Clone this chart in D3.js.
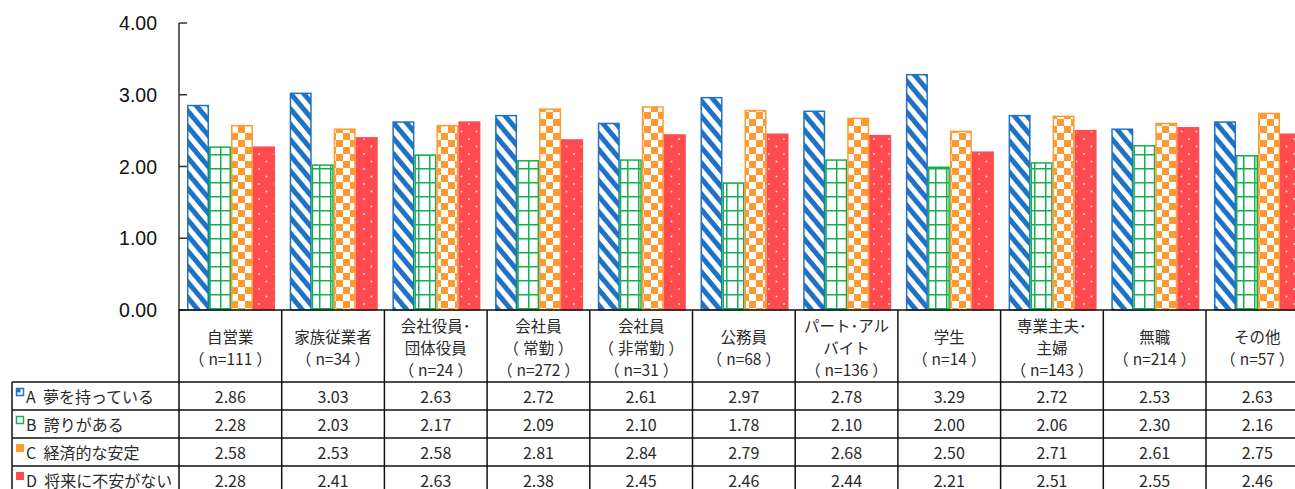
<!DOCTYPE html>
<html lang="ja">
<head>
<meta charset="UTF-8">
<title>職業別 回答平均</title>
<script src="https://d3js.org/d3.v7.min.js"></script>
<style>
  body { margin: 0; background: #fff; }
  text { font-family: "Noto Sans CJK JP", sans-serif; fill: #2a2a2a; }
  .ytick text { font-family: "Liberation Sans", Arial, sans-serif; font-size: 19.5px; fill: #111; }
</style>
</head>
<body>
<svg id="chart" width="1295" height="489"></svg>
<script>
// categories (header lines) and series values
const categories = [
  ["自営業", "（n=111）"],
  ["家族従業者", "（n=34）"],
  ["会社役員･", "団体役員", "（n=24）"],
  ["会社員", "（常勤）", "（n=272）"],
  ["会社員", "（非常勤）", "（n=31）"],
  ["公務員", "（n=68）"],
  ["パート･アル", "バイト", "（n=136）"],
  ["学生", "（n=14）"],
  ["専業主夫･", "主婦", "（n=143）"],
  ["無職", "（n=214）"],
  ["その他", "（n=57）"]
];
const seriesNames = ["A 夢を持っている", "B 誇りがある", "C 経済的な安定", "D 将来に不安がない"];
const seriesA = [2.86, 3.03, 2.63, 2.72, 2.61, 2.97, 2.78, 3.29, 2.72, 2.53, 2.63];
const seriesB = [2.28, 2.03, 2.17, 2.09, 2.10, 1.78, 2.10, 2.00, 2.06, 2.30, 2.16];
const seriesC = [2.58, 2.53, 2.58, 2.81, 2.84, 2.79, 2.68, 2.50, 2.71, 2.61, 2.75];
const seriesD = [2.28, 2.41, 2.63, 2.38, 2.45, 2.46, 2.44, 2.21, 2.51, 2.55, 2.46];
const yTicks = [0, 1, 2, 3, 4];

const allSeries = [seriesA, seriesB, seriesC, seriesD];
const colors = ["#1f72c4", "#12b04e", "#ff9a33", "#ff4b4f"];

const svg = d3.select("#chart");
const colW = 102.7;
const plotLeft = 179, plotTop = 23, base = 310;

const x = d3.scaleBand().domain(d3.range(categories.length))
  .range([plotLeft, plotLeft + colW * categories.length]);
const xs = d3.scaleBand().domain(d3.range(4)).range([8, 96]);
const y = d3.scaleLinear().domain([0, 4]).range([base, plotTop]);

// patterns
const defs = svg.append("defs");
const pA = defs.append("pattern").attr("id", "pA").attr("patternUnits", "userSpaceOnUse")
  .attr("width", 10).attr("height", 10).attr("patternTransform", "rotate(-40)");
pA.append("rect").attr("width", 10).attr("height", 10).attr("fill", "#fff");
pA.append("rect").attr("width", 5).attr("height", 10).attr("fill", colors[0]);

const pB = defs.append("pattern").attr("id", "pB").attr("patternUnits", "userSpaceOnUse")
  .attr("width", 11).attr("height", 14);
pB.append("rect").attr("width", 11).attr("height", 14).attr("fill", "#fff");
pB.append("line").attr("x1", 0.75).attr("x2", 0.75).attr("y1", 0).attr("y2", 14)
  .attr("stroke", colors[1]).attr("stroke-width", 1.5);
pB.append("line").attr("x1", 0).attr("x2", 11).attr("y1", 0.75).attr("y2", 0.75)
  .attr("stroke", colors[1]).attr("stroke-width", 1.5);

const pC = defs.append("pattern").attr("id", "pC").attr("patternUnits", "userSpaceOnUse")
  .attr("width", 14).attr("height", 14);
pC.append("rect").attr("width", 14).attr("height", 14).attr("fill", "#fff");
pC.append("rect").attr("width", 7).attr("height", 7).attr("fill", colors[2]);
pC.append("rect").attr("x", 7).attr("y", 7).attr("width", 7).attr("height", 7).attr("fill", colors[2]);

const pD = defs.append("pattern").attr("id", "pD").attr("patternUnits", "userSpaceOnUse")
  .attr("width", 15).attr("height", 15);
pD.append("rect").attr("width", 15).attr("height", 15).attr("fill", colors[3]);
pD.append("circle").attr("cx", 4).attr("cy", 4).attr("r", 1).attr("fill", "#ffd8d8");
pD.append("circle").attr("cx", 11.5).attr("cy", 11.5).attr("r", 1).attr("fill", "#ffd8d8");

const fills = ["url(#pA)", "url(#pB)", "url(#pC)", "url(#pD)"];

// bars
allSeries.forEach((vals, s) => {
  svg.append("g").selectAll("rect").data(vals).join("rect")
    .attr("x", (d, i) => x(i) + xs(s) + 0.75)
    .attr("y", d => y(d) + 0.75)
    .attr("width", xs.bandwidth() - 1.5)
    .attr("height", d => base - y(d) - 0.75)
    .attr("fill", fills[s])
    .attr("stroke", colors[s]).attr("stroke-width", 1.5);
});

// y axis
const yAxis = svg.append("g").attr("class", "ytick");
yAxis.append("line").attr("x1", plotLeft).attr("x2", plotLeft).attr("y1", y(4)).attr("y2", base)
  .attr("stroke", "#333").attr("stroke-width", 1.5);
yAxis.selectAll("line.t").data(yTicks).join("line").attr("class", "t")
  .attr("x1", plotLeft).attr("x2", plotLeft + 8).attr("y1", d => y(d)).attr("y2", d => y(d))
  .attr("stroke", "#333").attr("stroke-width", 1.5);
yAxis.selectAll("text").data(yTicks).join("text")
  .attr("x", 157).attr("y", d => y(d)).attr("dy", "0.36em")
  .attr("text-anchor", "end").text(d => d.toFixed(2));

// table
const headBottom = 382, rowH = 28;
const tbl = svg.append("g");
const lineC = "#111";
const plotRight = 1295;
tbl.append("line").attr("x1", plotLeft).attr("x2", plotRight).attr("y1", base).attr("y2", base)
  .attr("stroke", lineC).attr("stroke-width", 1.5);
for (let r = 0; r <= 4; r++) {
  const yy = headBottom + r * rowH;
  tbl.append("line").attr("x1", 12).attr("x2", plotRight).attr("y1", yy).attr("y2", yy)
    .attr("stroke", lineC).attr("stroke-width", 1.5);
}
tbl.append("line").attr("x1", 12).attr("x2", 12).attr("y1", headBottom).attr("y2", 489)
  .attr("stroke", lineC).attr("stroke-width", 1.5);
d3.range(categories.length + 1).forEach(i => {
  const xx = plotLeft + i * colW;
  tbl.append("line").attr("x1", xx).attr("x2", xx).attr("y1", base).attr("y2", 489)
    .attr("stroke", lineC).attr("stroke-width", 1.5);
});

// header labels; a narrow space inside full-width parens to keep them wide
categories.forEach((lines, i) => {
  const cx = x(i) + x.bandwidth() / 2;
  const lh = 22;
  const mid = (base + headBottom) / 2 + 1;
  lines.forEach((ln, k) => {
    tbl.append("text").attr("text-anchor", "middle").attr("font-size", 15.5)
      .attr("x", cx).attr("y", mid + (k - (lines.length - 1) / 2) * lh)
      .attr("dominant-baseline", "central")
      .text(ln.replace("（", "（\u2005").replace("）", "\u2005）"));
  });
});

// row labels and values
seriesNames.forEach((name, s) => {
  const cy = headBottom + s * rowH + rowH / 2;
  if (s === 0) {
    tbl.append("rect").attr("x", 16.5).attr("y", cy - 7.5).attr("width", 7).attr("height", 7)
      .attr("fill", "#fff").attr("stroke", colors[0]).attr("stroke-width", 1.5);
    tbl.append("rect").attr("x", 16.5).attr("y", cy - 7.5).attr("width", 4).attr("height", 4)
      .attr("fill", colors[0]);
  } else if (s === 1) {
    tbl.append("rect").attr("x", 16.5).attr("y", cy - 7.5).attr("width", 7).attr("height", 7)
      .attr("fill", "#fff").attr("stroke", colors[1]).attr("stroke-width", 1.5);
  } else {
    tbl.append("rect").attr("x", 16).attr("y", cy - 8).attr("width", 8).attr("height", 8)
      .attr("fill", colors[s]);
  }
  tbl.append("text").attr("x", 26).attr("y", cy).attr("dominant-baseline", "central")
    .attr("font-size", 16).attr("xml:space", "preserve").text(name.replace(" ", "  "));
  tbl.append("g").selectAll("text").data(allSeries[s]).join("text")
    .attr("x", (d, i) => x(i) + x.bandwidth() / 2).attr("y", cy)
    .attr("dominant-baseline", "central").attr("text-anchor", "middle")
    .attr("font-size", 16).text(d => d.toFixed(2));
});
</script>
</body>
</html>
